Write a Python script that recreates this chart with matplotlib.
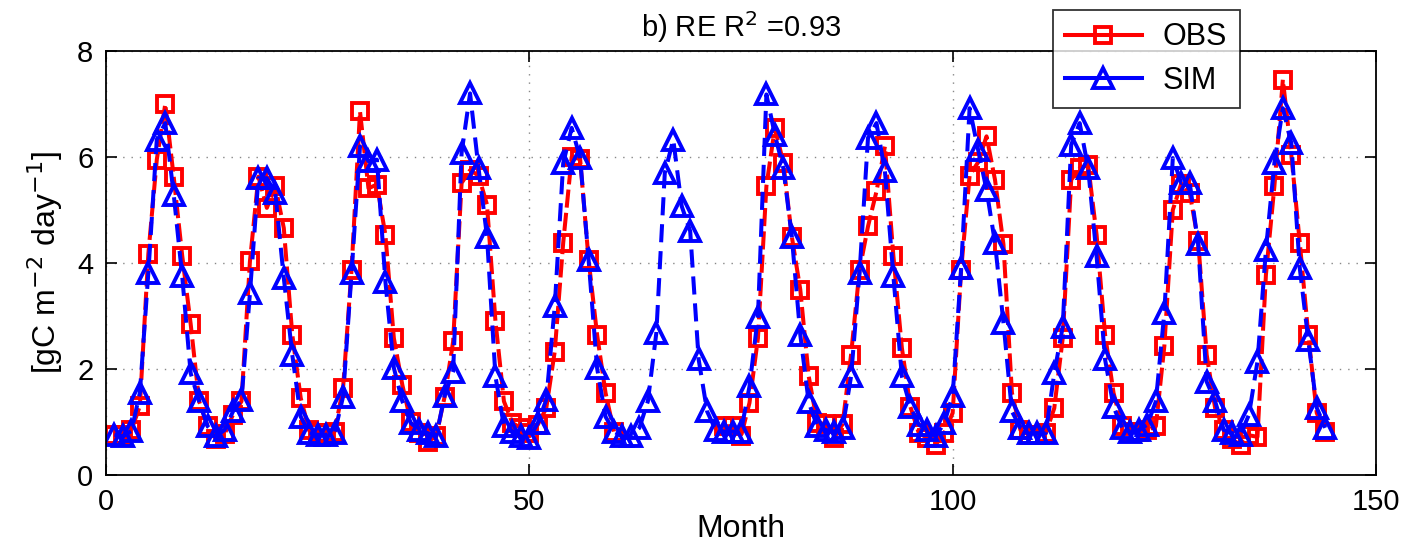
import numpy as np
import matplotlib
matplotlib.use("Agg")
import matplotlib.pyplot as plt
from matplotlib.lines import Line2D

plt.rcParams['font.family'] = ['Liberation Sans', 'DejaVu Sans']

months = np.arange(1, 145)

obs = [
    0.75, 0.75, 0.85, 1.30, 4.17, 5.95, 7.00, 5.62, 4.14, 2.85, 1.39, 0.92,
    0.67, 0.77, 1.14, 1.39, 4.03, 5.63, 5.04, 5.45, 4.66, 2.65, 1.45, 0.84,
    0.79, 0.79, 0.82, 1.64, 3.87, 6.86, 5.41, 5.48, 4.53, 2.58, 1.70, 1.00,
    0.79, 0.63, 0.73, 1.48, 2.52, 5.51, 5.75, 5.65, 5.10, 2.90, 1.39, 0.98,
    0.89, 0.80, 0.95, 1.26, 2.33, 4.38, 6.00, 5.96, 4.06, 2.65, 1.55, 0.82,
    np.nan, np.nan, np.nan, np.nan, np.nan, np.nan, np.nan, np.nan, np.nan, np.nan, np.nan, np.nan,
    0.92, 0.92, 0.73, 1.36, 2.58, 5.45, 6.55, 5.89, 4.50, 3.50, 1.86, 0.99,
    0.96, 0.70, 0.96, 2.27, 3.87, 4.69, 5.35, 6.20, 4.13, 2.40, 1.29, 0.79,
    0.70, 0.57, 0.79, 1.17, 3.87, 5.65, 5.90, 6.39, 5.57, 4.35, 1.55, 0.85,
    0.76, 0.76, 0.79, 1.26, 2.58, 5.57, 5.79, 5.85, 4.53, 2.65, 1.55, 0.92,
    0.82, 0.82, 0.85, 0.92, 2.43, 5.00, 5.50, 5.32, 4.41, 2.27, 1.26, 0.85,
    0.67, 0.57, 0.75, 0.72, 3.78, 5.45, 7.46, 6.04, 4.38, 2.65, 1.17, 0.82,
]

sim = [
    0.76, 0.73, 0.83, 1.55, 3.81, 6.33, 6.64, 5.29, 3.75, 1.92, 1.39, 0.92,
    0.73, 0.85, 1.20, 1.42, 3.43, 5.60, 5.60, 5.32, 3.72, 2.27, 1.10, 0.79,
    0.76, 0.76, 0.79, 1.48, 3.81, 6.20, 5.92, 5.95, 3.65, 2.02, 1.39, 0.98,
    0.85, 0.79, 0.73, 1.50, 1.95, 6.08, 7.20, 5.79, 4.50, 1.86, 0.92, 0.82,
    0.73, 0.70, 0.98, 1.42, 3.18, 5.88, 6.55, 5.98, 4.06, 2.02, 1.10, 0.82,
    0.73, 0.73, 0.89, 1.39, 2.68, 5.70, 6.33, 5.07, 4.60, 2.18, 1.20, 0.85,
    0.82, 0.82, 0.82, 1.67, 2.99, 7.18, 6.42, 5.79, 4.50, 2.65, 1.37, 0.92,
    0.85, 0.82, 0.89, 1.86, 3.81, 6.36, 6.64, 5.73, 3.75, 1.86, 1.29, 0.95,
    0.85, 0.73, 0.98, 1.50, 3.90, 6.92, 6.14, 5.38, 4.38, 2.87, 1.20, 0.89,
    0.79, 0.79, 0.79, 1.92, 2.80, 6.23, 6.64, 5.79, 4.13, 2.18, 1.29, 0.89,
    0.82, 0.85, 0.95, 1.39, 3.06, 5.98, 5.51, 5.51, 4.35, 1.76, 1.39, 0.85,
    0.79, 0.76, 1.14, 2.14, 4.25, 5.89, 6.92, 6.26, 3.90, 2.55, 1.27, 0.89,
]

title_text = r"b) RE R$^2$ =0.93"
series_labels = ["OBS", "SIM"]
x_ticks = [0, 50, 100, 150]
y_ticks = [0, 2, 4, 6, 8]

fig = plt.figure(figsize=(14.06, 5.51), dpi=100)
ax = fig.add_axes([106/1406, 1 - 475/551, (1376-106)/1406, (475-51)/551])

LW = 2.9
ax.plot(months, obs, color='#ff0000', linestyle=(0, (4.5, 1.3)), linewidth=LW,
        marker='s', markersize=11, markerfacecolor='none', markeredgewidth=2.8,
        markeredgecolor='#ff0000')
ax.plot(months, sim, color='#0000ff', linestyle=(0, (4.5, 2.2)), linewidth=LW,
        marker='^', markersize=15, markerfacecolor='none', markeredgewidth=2.8,
        markeredgecolor='#0000ff')

ax.set_xlim(0, 150)
ax.set_ylim(0, 8)
ax.set_xticks(x_ticks)
ax.set_yticks(y_ticks)
ax.tick_params(direction='in', length=8, width=1.2, top=True, right=True,
               labelsize=21, pad=9, colors='black')
ax.grid(True, linestyle=(0, (1, 5)), color='#888888', linewidth=1.0)
for s in ax.spines.values():
    s.set_linewidth(1.3)

ax.set_title(title_text, fontsize=21, pad=10)
ax.set_xlabel("Month", fontsize=23, labelpad=-1)
ax.set_ylabel(r"[gC m$^{-2}$ day$^{-1}$]", fontsize=23, labelpad=9)

handles = [
    Line2D([], [], color='#ff0000', linewidth=LW, marker='s', markersize=11,
           markerfacecolor='none', markeredgewidth=2.8),
    Line2D([], [], color='#0000ff', linewidth=LW, marker='^', markersize=15,
           markerfacecolor='none', markeredgewidth=2.8),
]
leg = ax.legend(handles, series_labels, loc='upper left',
                bbox_to_anchor=((1053-106)/1270, (475-10)/424),
                fontsize=22, frameon=True, fancybox=False, handlelength=2.5,
                borderpad=0.4, labelspacing=0.45, handletextpad=0.7,
                borderaxespad=0)
leg.get_frame().set_edgecolor('black')
leg.get_frame().set_linewidth(1.3)
leg.set_zorder(10)

fig.savefig("out.png", dpi=100)
